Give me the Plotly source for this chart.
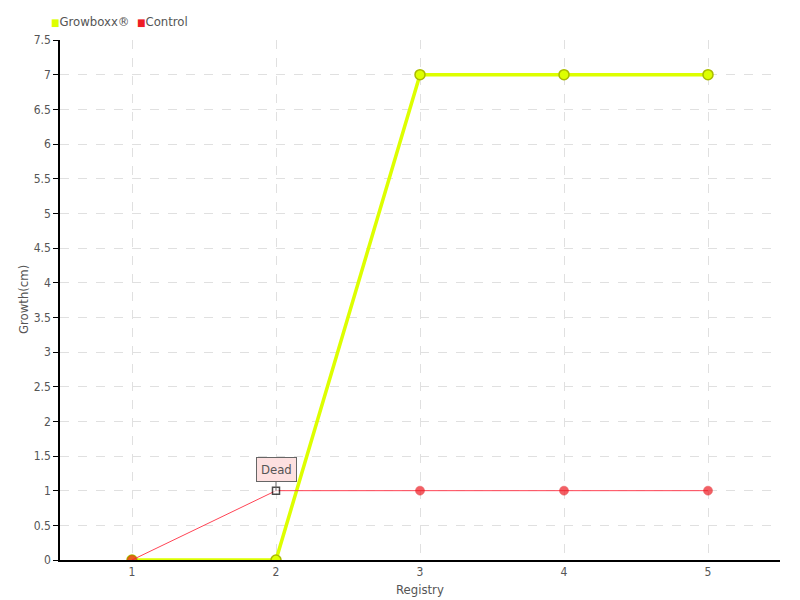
import plotly.graph_objects as go

registry = [1, 2, 3, 4, 5]
growboxx = [0, 0, 7, 7, 7]
control = [0, 1, 1, 1, 1]
y_ticks = [0, 0.5, 1, 1.5, 2, 2.5, 3, 3.5, 4, 4.5, 5, 5.5, 6, 6.5, 7, 7.5]
y_tick_text = ["0", "0.5", "1", "1.5", "2", "2.5", "3", "3.5", "4", "4.5", "5", "5.5", "6", "6.5", "7", "7.5"]
series_names = ["Growboxx®", "Control"]
dead_label = "Dead"
dead_index = 1

FONT = "DejaVu Sans Condensed, Liberation Sans Narrow, DejaVu Sans, sans-serif"
GREEN = "#ddff00"
RED = "#ee1c25"
OFF = 8  # page body margin offset
PW, PH = 720, 520  # plot area size
PL, PT = 60, 40    # plot area left/top in page pixels

fig = go.Figure()
fig.add_trace(go.Scatter(
    x=registry, y=growboxx, name=series_names[0], mode="lines+markers", showlegend=False,
    line=dict(color=GREEN, width=3.5),
    marker=dict(size=10, color=GREEN, line=dict(color="#aabb00", width=1.5)),
))
ctrl_colors = [RED] * len(registry)
ctrl_sizes = [9] * len(registry)
ctrl_symbols = ["circle"] * len(registry)
ctrl_line_colors = ["#dd1111"] * len(registry)
ctrl_line_widths = [0.5] * len(registry)
ctrl_colors[dead_index] = "white"
ctrl_symbols[dead_index] = "square"
ctrl_sizes[dead_index] = 7
ctrl_line_colors[dead_index] = "black"
ctrl_line_widths[dead_index] = 1.5
fig.add_trace(go.Scatter(
    x=registry, y=control, name=series_names[1], mode="lines+markers", showlegend=False,
    line=dict(color="#ff4455", width=1),
    marker=dict(size=ctrl_sizes, color=ctrl_colors, symbol=ctrl_symbols,
                line=dict(color=ctrl_line_colors, width=ctrl_line_widths)),
))

legend_text = (
    f"<span style='color:{GREEN};font-size:10px'>■</span>{series_names[0]}&nbsp; "
    f"<span style='color:{RED};font-size:10px'>■</span>{series_names[1]}"
)
fig.add_annotation(
    x=(49 - PL) / PW, y=1 + (PT - 22) / PH, xref="paper", yref="paper",
    xanchor="left", yanchor="middle", showarrow=False, text=legend_text,
    font=dict(family=FONT, size=13, color="#555"),
)
fig.add_annotation(
    x=registry[dead_index], y=control[dead_index], text=dead_label,
    showarrow=True, arrowhead=0, arrowwidth=1, arrowcolor="#666", ax=0, ay=-21,
    bgcolor="#fde0e0", bordercolor="#666", borderwidth=1, borderpad=4,
    font=dict(family=FONT, size=13, color="#555"),
)
fig.add_annotation(
    x=0.5, y=-(589 - PT - PH) / PH, xref="paper", yref="paper", yanchor="middle",
    text="Registry", showarrow=False, font=dict(family=FONT, size=13, color="#555"),
)
fig.add_annotation(
    x=(23 - PL) / PW, y=0.5, xref="paper", yref="paper", xanchor="center",
    yanchor="middle", textangle=-90,
    text="Growth(cm)", showarrow=False, font=dict(family=FONT, size=13, color="#555"),
)

L, R, T, B = PL - OFF, 800 - PL - PW + OFF, PT - OFF, 600 - PT - PH + OFF
fig.update_layout(
    width=800, height=600,
    margin=dict(l=L, r=R, t=T, b=B, autoexpand=False),
    paper_bgcolor="white", plot_bgcolor="white",
    font=dict(family=FONT, size=13, color="#555"),
    showlegend=False,
    xaxis=dict(range=[0.5, 5.5], tickvals=registry, showgrid=True, automargin=False,
               gridcolor="#e0e0e0", griddash="dash", showline=True, linecolor="black",
               linewidth=1.5, ticks="", zeroline=False, tickfont=dict(size=12)),
    yaxis=dict(range=[0, 7.5], tickvals=y_ticks, ticktext=y_tick_text, showgrid=True,
               automargin=False, tickfont=dict(size=12),
               gridcolor="#e0e0e0", griddash="dash", showline=True, linecolor="black",
               linewidth=1.5, ticks="outside", ticklen=5, tickcolor="black", zeroline=False),
)
fig.write_html("out.html")
